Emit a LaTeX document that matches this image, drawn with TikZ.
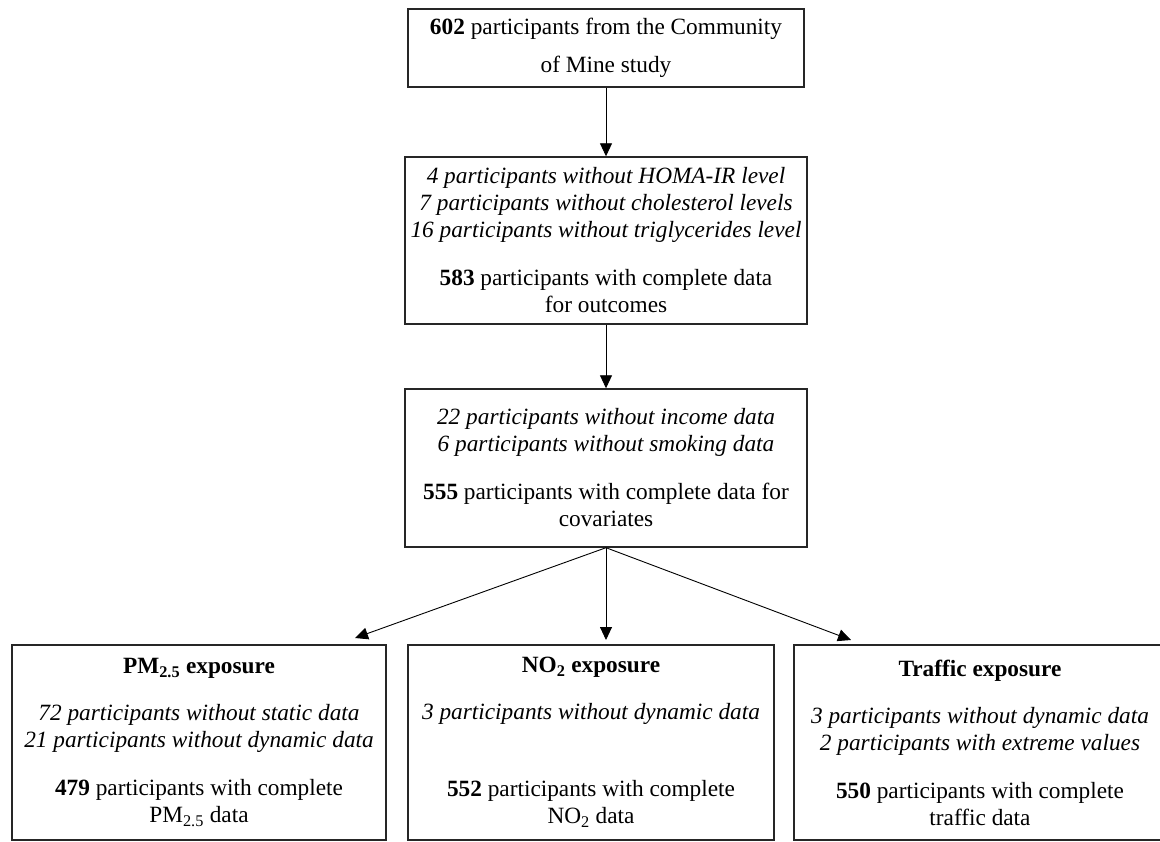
\documentclass[tikz,border=0pt]{standalone}
\usepackage{fontspec}
\setmainfont{Liberation Serif}
\usepackage{tikz}
\usetikzlibrary{positioning}
\usetikzlibrary{arrows.meta}
\tikzset{stagebox/.style={draw=black!85, line width=1.4pt, align=center, inner sep=0pt,
            font=\fontsize{23.3}{27}\selectfont},
            flowarrow/.style={-{Triangle[width=12pt,length=13pt]}, line width=0.9pt}}

\begin{document}
\begin{tikzpicture}[x=1pt,y=-1pt]
  \useasboundingbox (0,0) rectangle (1160,842);
  \clip (0,0) rectangle (1160,842);
  % main chain
  \node[stagebox, minimum width=396pt, minimum height=78pt] (start) at (606,48)
    {\textbf{602} participants from the Community\\[11pt] of Mine study};
  \node[stagebox, minimum width=402pt, minimum height=167pt] (outcomes) at (606,240.5)
    {\textit{4 participants without HOMA-IR level}\\ \textit{7 participants without cholesterol levels}\\
     \textit{16 participants without triglycerides level}\\[21pt]
     \textbf{583} participants with complete data\\ for outcomes};
  \node[stagebox, minimum width=402pt, minimum height=158pt] (covariates) at (606,468)
    {\textit{22 participants without income data}\\ \textit{6 participants without smoking data}\\[21pt]
     \textbf{555} participants with complete data for\\ covariates};
  % exposures
  \node[stagebox, minimum width=374pt, minimum height=195pt] (pm) at (199,742.5)
    {\textbf{PM\textsubscript{2.5} exposure}\\[20pt]
     \textit{72 participants without static data}\\ \textit{21 participants without dynamic data}\\[21pt]
     \textbf{479} participants with complete\\ PM\textsubscript{2.5} data};
  \node[stagebox, minimum width=366pt, minimum height=195pt] (no) at (591,742.5)
    {\textbf{NO\textsubscript{2} exposure}\\[20pt]
     \textit{3 participants without dynamic data}\\[50pt]
     \textbf{552} participants with complete\\ NO\textsubscript{2} data};
  \node[stagebox, minimum width=372pt, minimum height=195pt] (traffic) at (980,742.5)
    {\textbf{Traffic exposure}\\[20pt]
     \textit{3 participants without dynamic data}\\ \textit{2 participants with extreme values}\\[21pt]
     \textbf{550} participants with complete\\ traffic data};
  \coordinate (pmtip) at (355,638);
  \coordinate (notip) at (606,640);
  \coordinate (traftip) at (851,640);
  % arrows
  \draw[flowarrow] (start) -- (outcomes);
  \draw[flowarrow] (outcomes) -- (covariates);
  \draw[flowarrow] (covariates.south) -- (pmtip);
  \draw[flowarrow] (covariates.south) -- (notip);
  \draw[flowarrow] (covariates.south) -- (traftip);
\end{tikzpicture}
\end{document}
